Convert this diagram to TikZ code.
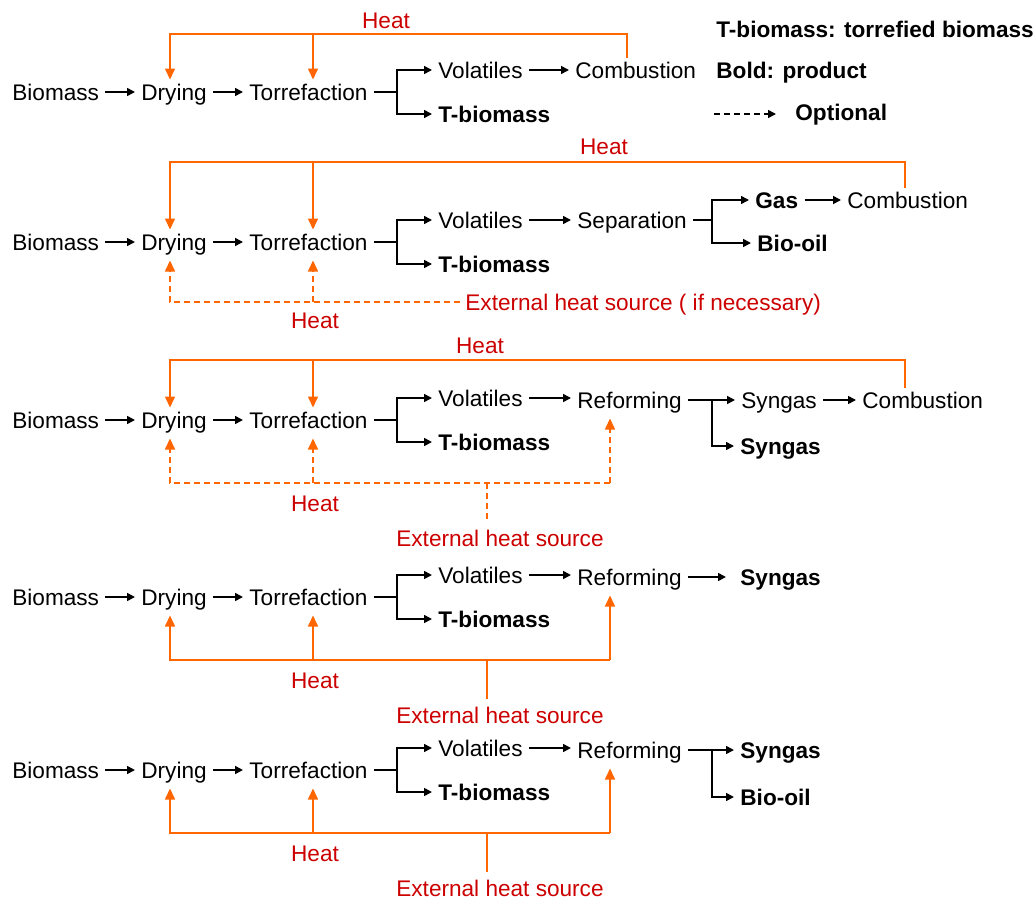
\documentclass[tikz,border=0pt]{standalone}
\usepackage{fontspec}
\setmainfont{Liberation Sans}
\usepackage{xcolor}
\usetikzlibrary{arrows.meta}
\definecolor{heatorange}{RGB}{255,102,0}
\definecolor{heatred}{RGB}{204,0,0}

\begin{document}
\begin{tikzpicture}[x=0.5pt,y=-0.5pt,
    font=\fontsize{11.3}{13}\selectfont,
    txt/.style={anchor=west,inner xsep=3pt,inner ysep=2pt,text height=8.1pt,text depth=0pt},
    prod/.style={txt,font=\fontsize{11.3}{13}\selectfont\bfseries},
    lbl/.style={text=heatred,inner sep=0pt,text height=8.1pt,text depth=0pt},
    flow/.style={-{Triangle[length=4pt,width=4pt]},line width=0.8pt},
    heatline/.style={heatorange,line width=0.8pt},
    heat/.style={heatline,-{Triangle[length=5.5pt,width=5pt]}},
    opt/.style={dash pattern=on 3pt off 2pt}]
    \useasboundingbox (0,0) rectangle (1035,900);

    % Columns
    \coordinate (colD) at (170,0);
    \coordinate (colT) at (313,0);
    \coordinate (colV) at (397,0);
    \coordinate (colE) at (487,0);
    \coordinate (colR) at (610,0);
    \coordinate (colS) at (712,0);

    % Legend
    \node[prod] (key1) at (710,29) {T-biomass: torrefied biomass};
    \node[prod] (key2) at (710,70) {Bold: product};
    \coordinate (opt0) at (714,114);
    \coordinate (opt1) at (776,114);
    \draw[flow,opt] (opt0) -- (opt1);
    \node[prod] (key3) at (789,112) {Optional};

    % Row 1
    \node[txt] (b1) at (6,92) {Biomass};
    \node[txt] (d1) at (135,92) {Drying};
    \node[txt] (t1) at (243,92) {Torrefaction};
    \node[txt] (v1) at (432,70) {Volatiles};
    \node[prod] (m1) at (432,114) {T-biomass};
    \node[txt] (c1) at (569,70) {Combustion};
    \draw[flow] (b1) -- (d1);
    \draw[flow] (d1) -- (t1);
    \draw[flow] (t1.east) -- (t1.east -| colV) |- (v1.west);
    \draw[flow] (t1.east -| colV) |- (m1.west);
    \draw[flow] (v1) -- (c1);
    % Heat from combustion
    \coordinate (hk1) at (627,34);
    \draw[heat] (hk1 |- c1.north) -- (hk1) -| (d1.north -| colD);
    \draw[heat] (hk1 -| colT) -- (t1.north -| colT);
    \node[lbl] (q1) at (386,20) {Heat};

    % Row 2
    \node[txt] (b2) at (6,242) {Biomass};
    \node[txt] (d2) at (135,242) {Drying};
    \node[txt] (t2) at (243,242) {Torrefaction};
    \node[txt] (v2) at (432,220) {Volatiles};
    \node[prod] (m2) at (432,264) {T-biomass};
    \node[txt] (s2) at (571,220) {Separation};
    \node[prod] (g2) at (749,200) {Gas};
    \node[prod] (o2) at (751,243) {Bio-oil};
    \node[txt] (c2) at (841,200) {Combustion};
    \draw[flow] (b2) -- (d2);
    \draw[flow] (d2) -- (t2);
    \draw[flow] (t2.east) -- (t2.east -| colV) |- (v2.west);
    \draw[flow] (t2.east -| colV) |- (m2.west);
    \draw[flow] (v2) -- (s2);
    \draw[flow] (s2.east) -- (s2.east -| colS) |- (g2.west);
    \draw[flow] (s2.east -| colS) |- (o2.west);
    \draw[flow] (g2) -- (c2);
    % Heat from combustion
    \coordinate (hk2) at (905,162);
    \draw[heat] (hk2 |- c2.north) -- (hk2) -| (d2.north -| colD);
    \draw[heat] (hk2 -| colT) -- (t2.north -| colT);
    \node[lbl] (q2) at (604,146) {Heat};
    % External heat (optional)
    \node[lbl,anchor=west] (e2) at (465,302) {External heat source ( if necessary)};
    \draw[heat,opt,shorten <=2.5pt,shorten >=3pt] (e2.west) -| (d2.south -| colD);
    \draw[heat,opt,shorten >=3pt] (e2.west -| colT) -- (t2.south -| colT);
    \node[lbl] (p2) at (315,320) {Heat};

    % Row 3
    \node[txt] (b3) at (6,420) {Biomass};
    \node[txt] (d3) at (135,420) {Drying};
    \node[txt] (t3) at (243,420) {Torrefaction};
    \node[txt] (v3) at (432,398) {Volatiles};
    \node[prod] (m3) at (432,442) {T-biomass};
    \node[txt] (r3) at (571,400) {Reforming};
    \node[txt] (y3) at (735,400) {Syngas};
    \node[prod] (z3) at (734,446) {Syngas};
    \node[txt] (c3) at (856,400) {Combustion};
    \draw[flow] (b3) -- (d3);
    \draw[flow] (d3) -- (t3);
    \draw[flow] (t3.east) -- (t3.east -| colV) |- (v3.west);
    \draw[flow] (t3.east -| colV) |- (m3.west);
    \draw[flow] (v3.east) -- (v3.east -| r3.west);
    \draw[flow] (r3.east) -- (r3.east -| colS) -- (y3.west);
    \draw[flow] (r3.east -| colS) |- (z3.west);
    \draw[flow] (y3) -- (c3);
    % Heat from combustion
    \coordinate (hk3) at (905,360);
    \draw[heat] (hk3 |- c3.north) -- (hk3) -| (d3.north -| colD);
    \draw[heat] (hk3 -| colT) -- (t3.north -| colT);
    \node[lbl] (q3) at (480,345) {Heat};
    % External heat (optional)
    \coordinate (hb3) at (0,483);
    \node[lbl] (e3) at (500,538) {External heat source};
    \draw[heat,opt,shorten >=3pt] (hb3 -| colR) -| (d3.south -| colD);
    \draw[heat,opt,shorten >=3pt] (hb3 -| colR) -- (r3.south -| colR);
    \draw[heat,opt,shorten >=3pt] (hb3 -| colT) -- (t3.south -| colT);
    \draw[heatline,opt,shorten >=4pt] (hb3 -| colE) -- (e3.north -| colE);
    \node[lbl] (p3) at (315,503) {Heat};

    % Row 4
    \node[txt] (b4) at (6,597) {Biomass};
    \node[txt] (d4) at (135,597) {Drying};
    \node[txt] (t4) at (243,597) {Torrefaction};
    \node[txt] (v4) at (432,575) {Volatiles};
    \node[prod] (m4) at (432,619) {T-biomass};
    \node[txt] (r4) at (571,577) {Reforming};
    \node[prod] (z4) at (734,577) {Syngas};
    \draw[flow] (b4) -- (d4);
    \draw[flow] (d4) -- (t4);
    \draw[flow] (t4.east) -- (t4.east -| colV) |- (v4.west);
    \draw[flow] (t4.east -| colV) |- (m4.west);
    \draw[flow] (v4.east) -- (v4.east -| r4.west);
    \draw[flow,shorten >=4pt] (r4) -- (z4);
    % External heat
    \coordinate (hb4) at (0,660);
    \node[lbl] (e4) at (500,715) {External heat source};
    \draw[heat,shorten >=3pt] (hb4 -| colR) -| (d4.south -| colD);
    \draw[heat,shorten >=3pt] (hb4 -| colR) -- (r4.south -| colR);
    \draw[heat,shorten >=3pt] (hb4 -| colT) -- (t4.south -| colT);
    \draw[heatline,shorten >=4pt] (hb4 -| colE) -- (e4.north -| colE);
    \node[lbl] (p4) at (315,680) {Heat};

    % Row 5
    \node[txt] (b5) at (6,770) {Biomass};
    \node[txt] (d5) at (135,770) {Drying};
    \node[txt] (t5) at (243,770) {Torrefaction};
    \node[txt] (v5) at (432,748) {Volatiles};
    \node[prod] (m5) at (432,792) {T-biomass};
    \node[txt] (r5) at (571,750) {Reforming};
    \node[prod] (z5) at (734,750) {Syngas};
    \node[prod] (o5) at (734,797) {Bio-oil};
    \draw[flow] (b5) -- (d5);
    \draw[flow] (d5) -- (t5);
    \draw[flow] (t5.east) -- (t5.east -| colV) |- (v5.west);
    \draw[flow] (t5.east -| colV) |- (m5.west);
    \draw[flow] (v5.east) -- (v5.east -| r5.west);
    \draw[flow] (r5.east) -- (r5.east -| colS) -- (z5.west);
    \draw[flow] (r5.east -| colS) |- (o5.west);
    % External heat
    \coordinate (hb5) at (0,833);
    \node[lbl] (e5) at (500,888) {External heat source};
    \draw[heat,shorten >=3pt] (hb5 -| colR) -| (d5.south -| colD);
    \draw[heat,shorten >=3pt] (hb5 -| colR) -- (r5.south -| colR);
    \draw[heat,shorten >=3pt] (hb5 -| colT) -- (t5.south -| colT);
    \draw[heatline,shorten >=4pt] (hb5 -| colE) -- (e5.north -| colE);
    \node[lbl] (p5) at (315,853) {Heat};
\end{tikzpicture}
\end{document}
